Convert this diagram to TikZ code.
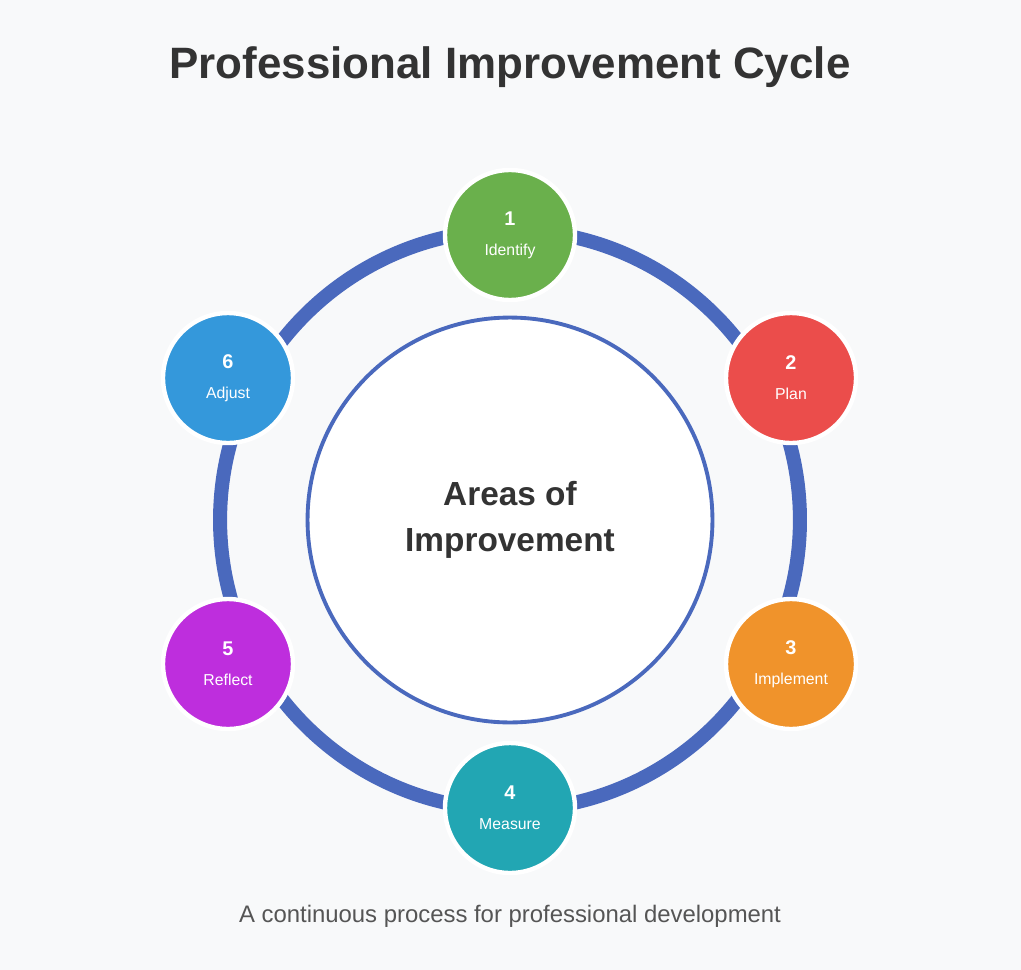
\documentclass[tikz,border=0pt]{standalone}
\usepackage{fontspec}
\setmainfont{Liberation Sans}
\definecolor{bgcol}{HTML}{F8F9FA}
\definecolor{ringcol}{HTML}{4A69BD}
\definecolor{txtcol}{HTML}{333333}
\definecolor{subcol}{HTML}{555555}
\definecolor{cA}{HTML}{6AB04C}
\definecolor{cB}{HTML}{EB4D4B}
\definecolor{cC}{HTML}{F0932B}
\definecolor{cD}{HTML}{22A6B3}
\definecolor{cE}{HTML}{BE2EDD}
\definecolor{cF}{HTML}{3498DB}
\begin{document}
\begin{tikzpicture}[
    x=0.02cm, y=-0.02cm,
    stage/.style={
        circle, minimum size=2.6cm, inner sep=0pt,
        draw=white, line width=2.5pt, text=white, align=center,
      },
    hub/.style={
        circle, minimum size=8.1cm, draw=ringcol, line width=2.2pt,
        fill=white, text=txtcol, align=center,
        font=\fontsize{19}{24}\selectfont\bfseries,
      }
  ]
  \fill[bgcol] (0,0) rectangle (1021,970);
  \node[font=\fontsize{25}{30}\selectfont\bfseries, text=txtcol] (title) at (510,67) {Professional Improvement Cycle};

  \draw[ringcol, line width=8pt] (510,520) circle (5.8cm);
  \node[hub] (hub) at (510,520) {Areas of\\[2pt]Improvement};

  \foreach \i/\x/\y/\c/\n in {
      1/510/235/cA/Identify,
      2/791/378/cB/Plan,
      3/791/664/cC/Implement,
      4/510/808/cD/Measure,
      5/228/664/cE/Reflect,
      6/228/378/cF/Adjust
    }{
      \node[stage, fill=\c] (s\i) at (\x,\y) {\fontsize{11.3}{13}\selectfont\bfseries\i\\[5pt]\fontsize{9}{11}\selectfont\n};
    }

  \node[font=\fontsize{13.6}{16}\selectfont, text=subcol] (sub) at (510,916) {A continuous process for professional development};
\end{tikzpicture}
\end{document}
